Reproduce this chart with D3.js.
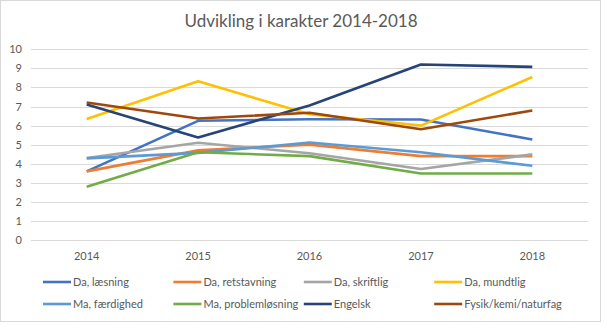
<!DOCTYPE html>
<html>
<head>
<meta charset="utf-8">
<script src="https://cdn.jsdelivr.net/npm/d3@7"></script>
<style>
  body { margin: 0; background: #fff; }
  text { font-family: Lato, "Open Sans", sans-serif; fill: #595959; }
</style>
</head>
<body>
<div id="container"></div>
<script>
// Years on the x axis
var years = ["2014", "2015", "2016", "2017", "2018"];

// Grade averages per subject, one value per year
var daLaesning = [3.6, 6.25, 6.33, 6.32, 5.27];
var daRetstavning = [3.6, 4.7, 5.0, 4.4, 4.4];
var daSkriftlig = [4.3, 5.1, 4.55, 3.72, 4.49];
var daMundtlig = [6.35, 8.32, 6.6, 6.0, 8.55];
var maFaerdighed = [4.28, 4.57, 5.11, 4.6, 3.89];
var maProblemloesning = [2.79, 4.6, 4.4, 3.49, 3.49];
var engelsk = [7.1, 5.38, 7.05, 9.2, 9.08];
var fysik = [7.21, 6.37, 6.67, 5.81, 6.79];

var seriesNames = ["Da, læsning", "Da, retstavning", "Da, skriftlig", "Da, mundtlig",
                   "Ma, færdighed", "Ma, problemløsning", "Engelsk", "Fysik/kemi/naturfag"];
var seriesValues = [daLaesning, daRetstavning, daSkriftlig, daMundtlig,
                    maFaerdighed, maProblemloesning, engelsk, fysik];
var colors = ["#4472C4", "#ED7D31", "#A5A5A5", "#FFC000",
              "#5B9BD5", "#70AD47", "#264478", "#9E480E"];

var yTicks = [0, 1, 2, 3, 4, 5, 6, 7, 8, 9, 10];

var width = 605;
var height = 326;
var margin = {left: 31, right: 17, top: 49.3, bottom: 86};

var svg = d3.select("#container")
            .append("svg")
            .attr("width", width)
            .attr("height", height);

// Chart border
svg.append("rect")
   .attr("x", 0.5)
   .attr("y", 0.5)
   .attr("width", 600)
   .attr("height", 321)
   .attr("fill", "#fff")
   .attr("stroke", "#D9D9D9");

var xScale = d3.scalePoint()
               .domain(years)
               .range([margin.left, width - margin.right])
               .padding(0.5);

var yScale = d3.scaleLinear()
               .domain([0, 10])
               .range([240, margin.top]);

// Horizontal gridlines
svg.append("g").selectAll("line")
   .data(yTicks)
   .enter()
   .append("line")
   .attr("x1", margin.left)
   .attr("x2", width - margin.right)
   .attr("y1", (d) => Math.round(yScale(d)) + 0.5)
   .attr("y2", (d) => Math.round(yScale(d)) + 0.5)
   .attr("stroke", "#D9D9D9")
   .attr("stroke-width", 1);

// Y tick labels
svg.append("g").selectAll("text")
   .data(yTicks)
   .enter()
   .append("text")
   .attr("x", 22)
   .attr("y", (d) => yScale(d) + 4)
   .attr("text-anchor", "end")
   .style("font-size", "11px")
   .text((d) => d);

// X tick labels
svg.append("g").selectAll("text")
   .data(years)
   .enter()
   .append("text")
   .attr("x", (d) => xScale(d))
   .attr("y", 260)
   .attr("text-anchor", "middle")
   .style("font-size", "11px")
   .text((d) => d);

// One line per subject
var line = d3.line()
             .x((d, i) => xScale(years[i]))
             .y((d) => yScale(d));

svg.append("g").selectAll("path")
   .data(seriesValues)
   .enter()
   .append("path")
   .attr("d", line)
   .attr("fill", "none")
   .attr("stroke", (d, i) => colors[i])
   .attr("stroke-width", 2.6)
   .attr("stroke-linejoin", "round");

// Title
svg.append("text")
   .attr("x", 301)
   .attr("y", 27)
   .attr("text-anchor", "middle")
   .style("font-size", "17px")
   .text("Udvikling i karakter 2014-2018");

// Legend in two rows of four
var legend = svg.append("g").selectAll("g")
                .data(seriesNames)
                .enter()
                .append("g")
                .attr("transform", (d, i) => "translate(" + (43 + (i % 4) * 130.4) + "," + (282 + Math.floor(i / 4) * 22) + ")");

legend.append("line")
      .attr("x1", 0)
      .attr("x2", 28)
      .attr("stroke", (d, i) => colors[i])
      .attr("stroke-width", 2.6);

legend.append("text")
      .attr("x", 30)
      .attr("y", 4)
      .style("font-size", "11px")
      .text((d) => d);
</script>
</body>
</html>
